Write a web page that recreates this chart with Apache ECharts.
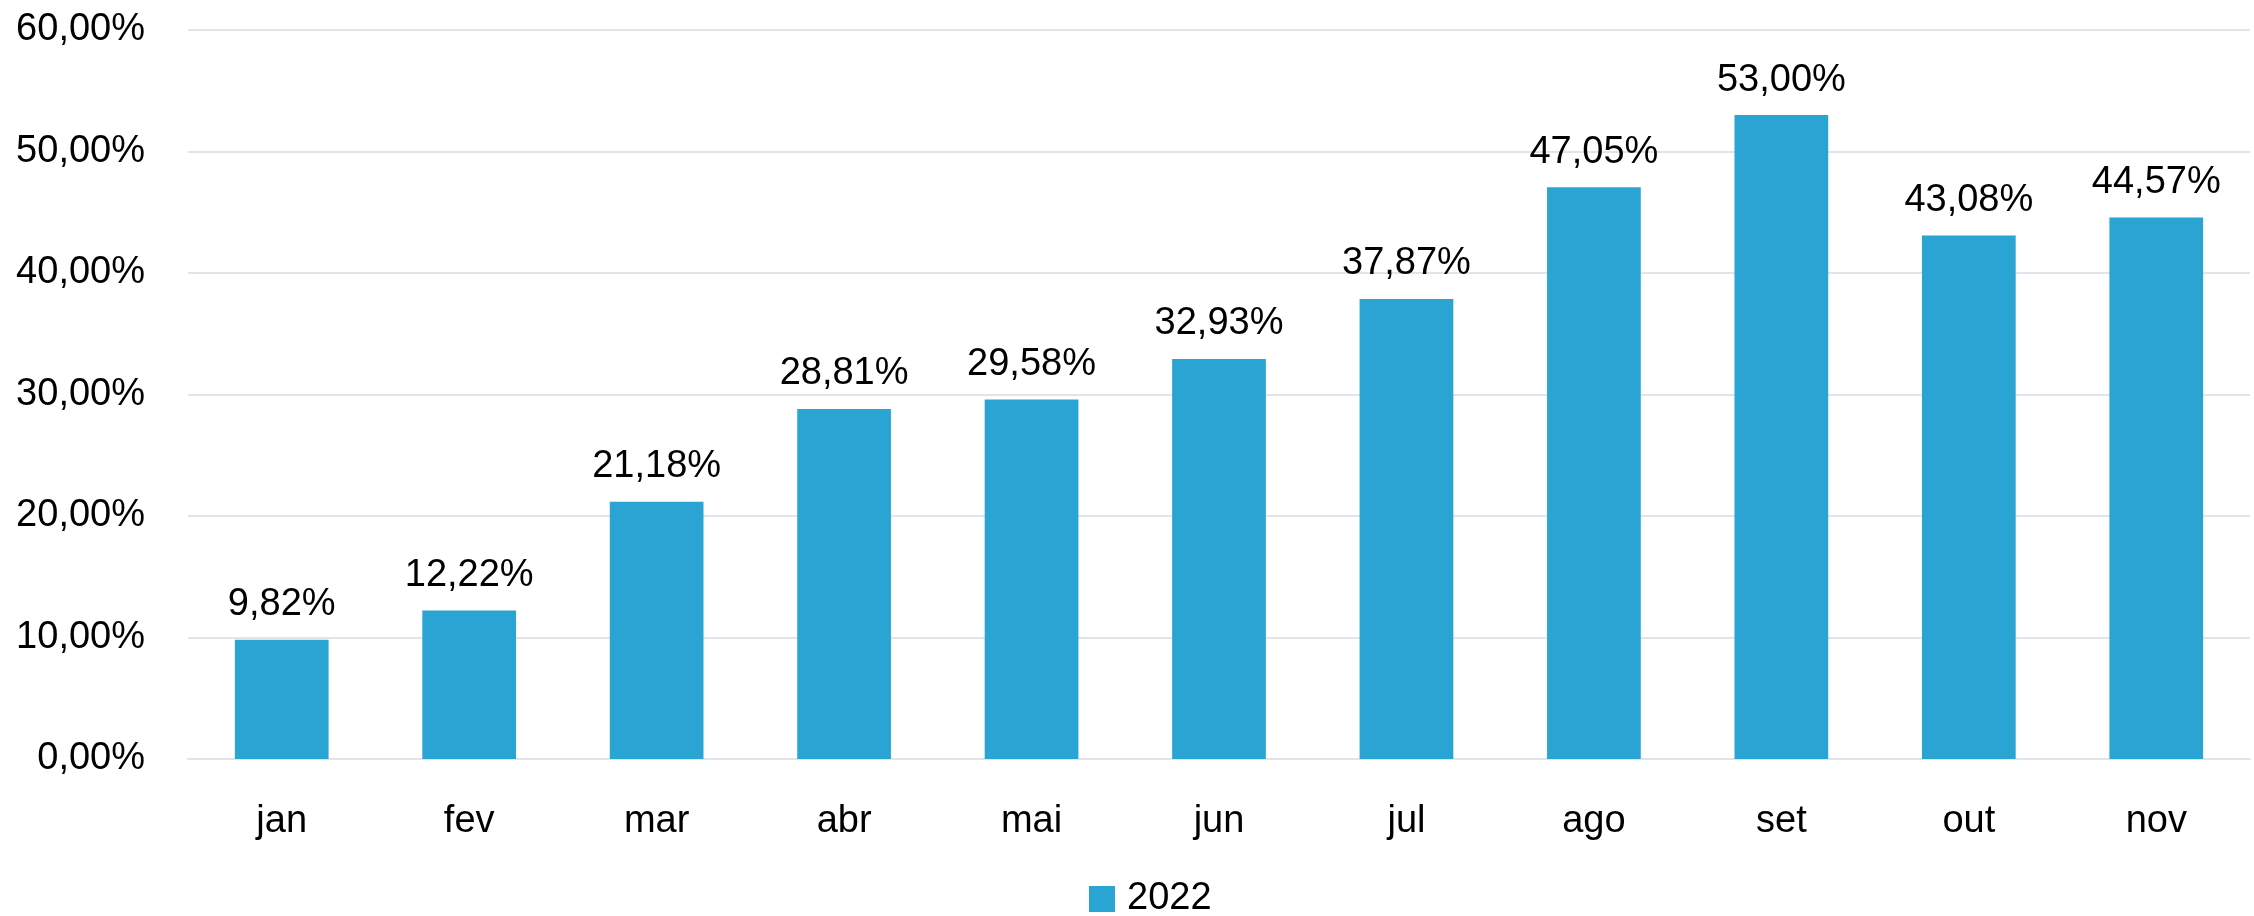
<!DOCTYPE html>
<html><head><meta charset="utf-8">
<script src="https://cdn.jsdelivr.net/npm/echarts@6/dist/echarts.min.js"></script>
<style>html,body{margin:0;padding:0;background:#fff}#c{width:2254px;height:916px}</style>
</head><body><div id="c"></div>
<script>
const categories = ['jan','fev','mar','abr','mai','jun','jul','ago','set','out','nov'];
const values2022 = [9.82, 12.22, 21.18, 28.81, 29.58, 32.93, 37.87, 47.05, 53.00, 43.08, 44.57];
const seriesName = '2022';
const FONT = 'Liberation Sans, Arial, sans-serif';
const fmt = v => v.toFixed(2).replace('.', ',') + '%';
const chart = echarts.init(document.getElementById('c'));
chart.setOption({
  animation: false,
  grid: {left: 188, right: 4, top: 30, bottom: 157},
  legend: {
    data: [seriesName], left: 1084, top: 875, icon: 'rect', itemWidth: 26, itemHeight: 26, itemGap: 10,
    textStyle: {fontFamily: FONT, fontSize: 38, color: '#000', padding: [0,0,0,7]}
  },
  xAxis: {
    type: 'category', data: categories,
    axisLine: {show: true, lineStyle: {color: '#E1E5EB', width: 2}},
    axisTick: {show: false},
    axisLabel: {fontFamily: FONT, fontSize: 38, color: '#000', margin: 44}
  },
  yAxis: {
    type: 'value', min: 0, max: 60, interval: 10,
    axisLine: {show: false}, axisTick: {show: false},
    splitLine: {lineStyle: {color: '#E1E5EB', width: 2}},
    axisLabel: {fontFamily: FONT, fontSize: 38, color: '#000', margin: 43, formatter: v => fmt(v)}
  },
  series: [{
    name: seriesName, type: 'bar', data: values2022, barWidth: '50%',
    itemStyle: {color: '#2AA5D3'},
    label: {show: true, position: 'top', distance: 16, fontFamily: FONT, fontSize: 38, color: '#000',
      formatter: p => fmt(p.value)}
  }]
});
</script></body></html>
